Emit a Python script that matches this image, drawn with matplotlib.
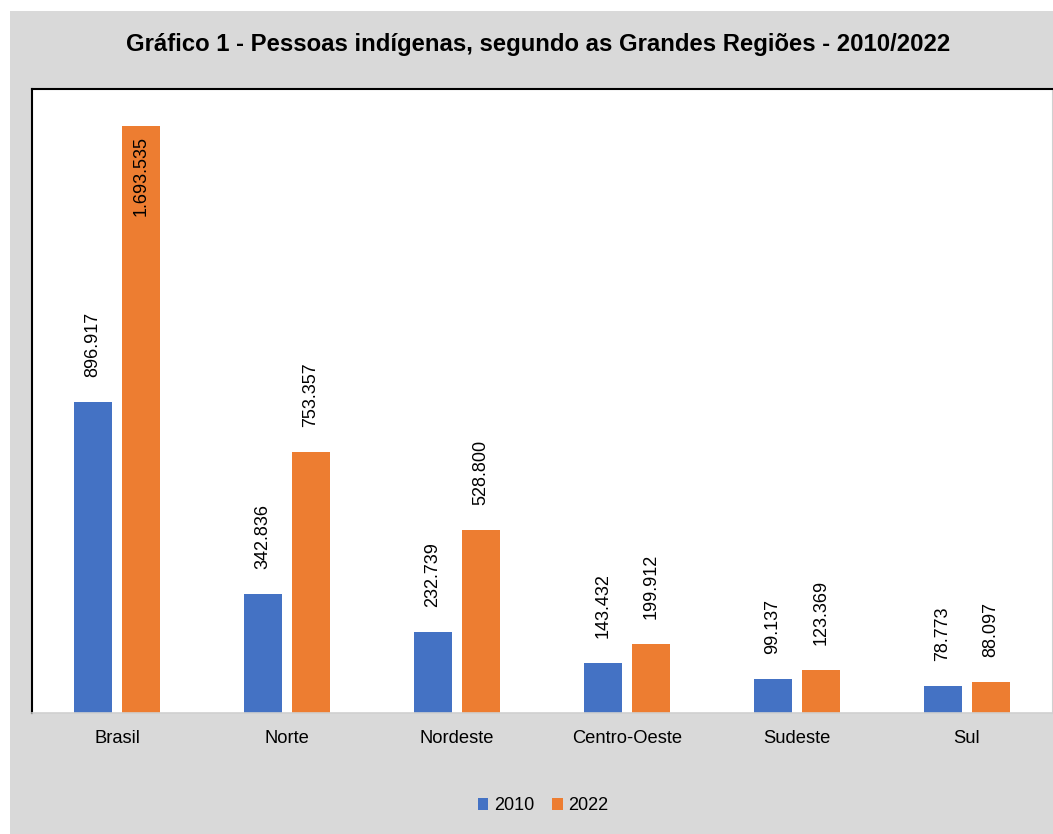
import matplotlib.pyplot as plt
from matplotlib.patches import Rectangle
import numpy as np

plt.rcParams['font.family'] = ['Liberation Sans', 'DejaVu Sans']

regioes = ["Brasil", "Norte", "Nordeste", "Centro-Oeste", "Sudeste", "Sul"]
pop_2010 = [896917, 342836, 232739, 143432, 99137, 78773]
pop_2022 = [1693535, 753357, 528800, 199912, 123369, 88097]


def fmt(v):
    # Brazilian thousands separator
    return f"{v:,}".replace(",", ".")


W, H = 1053, 834
fig = plt.figure(figsize=(W / 100, H / 100), dpi=100, facecolor='white')

# gray chart area (behind the axes)
fig.patches.append(Rectangle((10 / W, 0), 1, 1 - 11 / H, transform=fig.transFigure,
                             facecolor='#d9d9d9', edgecolor='none', zorder=-10))

ax = fig.add_axes([32 / W, 1 - 713 / H, (1052 - 32) / W, (713 - 89) / H])
ax.set_zorder(1)
ax.set_facecolor('white')

x = np.arange(len(regioes))
bw = 0.224
off = 0.141
b1 = ax.bar(x - off, pop_2010, bw, color='#4472C4', label='2010')
b2 = ax.bar(x + off, pop_2022, bw, color='#ED7D31', label='2022')

ax.set_xlim(-0.5, len(regioes) - 0.5)
ax.set_ylim(0, 1800000)
ax.set_yticks([])
ax.set_xticks(x)
ax.set_xticklabels(regioes, fontsize=13.2)
ax.tick_params(axis='x', length=0, pad=12)

for s in ['left', 'top']:
    ax.spines[s].set_color('black')
    ax.spines[s].set_linewidth(1.5)
ax.spines['bottom'].set_color('#d0d0d0')
ax.spines['bottom'].set_linewidth(1.2)
ax.spines['right'].set_color('#d0d0d0')

for bars, vals in ((b1, pop_2010), (b2, pop_2022)):
    for rect, v in zip(bars, vals):
        cx = rect.get_x() + rect.get_width() / 2
        if v > 1600000:
            ax.annotate(fmt(v), (cx, v), xytext=(0, -7), textcoords='offset points',
                        rotation=90, ha='center', va='top', fontsize=13)
        else:
            ax.annotate(fmt(v), (cx, v), xytext=(0, 18), textcoords='offset points',
                        rotation=90, ha='center', va='bottom', fontsize=13)

fig.text(538 / W, 1 - 45 / H,
         "Gráfico 1 - Pessoas indígenas, segundo as Grandes Regiões - 2010/2022",
         ha='center', va='center', fontsize=17.2, fontweight='bold')

fig.legend(loc='center', bbox_to_anchor=(543 / W, 1 - 806 / H), ncol=2, frameon=False,
           fontsize=13, handlelength=0.6, handleheight=0.6, handletextpad=0.3,
           columnspacing=1.0)

fig.savefig('out.png', dpi=100, facecolor='white')
